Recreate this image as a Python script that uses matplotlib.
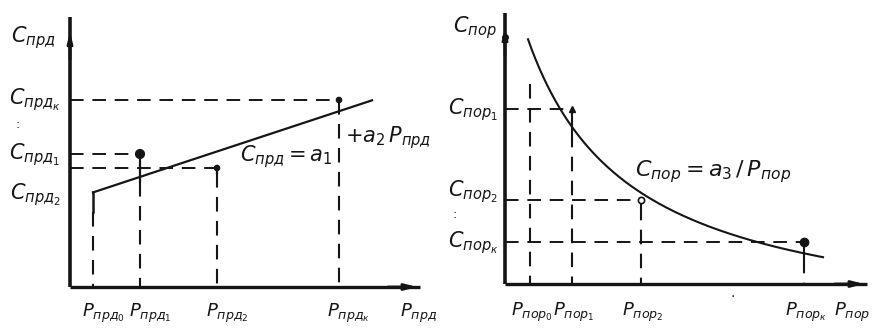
import numpy as np
import matplotlib
matplotlib.use("Agg")
import matplotlib.pyplot as plt

plt.rcParams["font.family"] = ["DejaVu Sans"]
plt.rcParams["mathtext.fontset"] = "dejavusans"

INK = "#151515"
DASH = (0, (7, 4.5))

# ---- left panel: linear price of sale  C = a1 + a2 * P ----
prd_p = [0.23, 0.70, 1.47, 2.69]          # P_прд0, P_прд1, P_прд2, P_прдk
prd_obs_p = [0.70, 1.47, 2.69]            # observed points 1, 2, k
prd_obs_c = [1.33, 1.19, 1.87]
a1, a2 = 0.87, 0.33
prd_line_p = [0.23, 3.02]
prd_xlabels = [r"$P_{\mathit{прд}_0}$", r"$P_{\mathit{прд}_1}$",
               r"$P_{\mathit{прд}_2}$", r"$P_{\mathit{прд}_к}$"]
prd_ylabels = [r"$C_{\mathit{прд}_к}$", r"$C_{\mathit{прд}_1}$",
               r"$C_{\mathit{прд}_2}$"]

# ---- right panel: hyperbolic price  C = a3 / P ----
por_p = [1.06, 1.48, 2.17, 3.80]          # P_пор0, P_пор1, P_пор2, P_порk
por_obs_p = [1.48, 2.17, 3.80]
por_obs_c = [2.25, 1.34, 0.92]
a3 = 3.065
por_curve_p = [1.04, 3.99]
por_xlabels = [r"$P_{\mathit{пор}_0}$", r"$P_{\mathit{пор}_1}$",
               r"$P_{\mathit{пор}_2}$", r"$P_{\mathit{пор}_к}$"]
por_ylabels = [r"$C_{\mathit{пор}_1}$", r"$C_{\mathit{пор}_2}$",
               r"$C_{\mathit{пор}_к}$"]

FS = 15
FSX = 13

fig = plt.figure(figsize=(8.81, 3.32), dpi=100)
fig.patch.set_facecolor("white")


def draw_axes(ax, x0, y0, x1, y1):
    ax.plot([x0, x0], [y0, y1], color=INK, lw=2.6, solid_capstyle="butt")
    ax.plot([x0, x1], [y0, y0], color=INK, lw=2.4, solid_capstyle="butt")
    ax.annotate("", xy=(x1, y0), xytext=(x1 - 0.35, y0),
                arrowprops=dict(arrowstyle="-|>,head_length=0.7,head_width=0.18",
                                color=INK, lw=2.0))
    ax.annotate("", xy=(x0, y1 - 0.12), xytext=(x0, y1 - 0.45),
                arrowprops=dict(arrowstyle="-|>,head_length=0.6,head_width=0.15",
                                color=INK, lw=2.0))


# ================= left =================
axL = fig.add_axes([0, 0, 440 / 881, 1])
axL.set_xlim(-0.70, 3.70)
axL.set_ylim(-0.45, 2.87)
axL.axis("off")

draw_axes(axL, 0.0, 0.0, 3.50, 2.70)

lp = np.array(prd_line_p)
axL.plot(lp, a1 + a2 * lp, color=INK, lw=1.6)
c0 = a1 + a2 * prd_p[0]
axL.plot([prd_p[0], prd_p[0]], [c0, c0 - 0.2], color=INK, lw=1.8)
axL.plot([prd_p[0], prd_p[0]], [c0 - 0.2, 0], color=INK, lw=1.5, ls=DASH)

for i, (p, c) in enumerate(zip(prd_obs_p, prd_obs_c)):
    axL.plot([0, p], [c, c], color=INK, lw=1.4, ls=DASH)
    if i < 2:
        lo = min(c, a1 + a2 * p) - 0.05
        axL.plot([p, p], [c, lo], color=INK, lw=1.6)
        axL.plot([p, p], [lo, 0], color=INK, lw=1.5, ls=DASH)
    else:
        axL.plot([p, p], [c, 0], color=INK, lw=1.5, ls=DASH)
axL.scatter(prd_obs_p, prd_obs_c, s=[40, 14, 14], color=INK, zorder=5)

axL.text(-0.37, 2.49, r"$C_{\mathit{прд}}$", fontsize=FS, color=INK, ha="center", va="center")
for lbl, y in zip(prd_ylabels, [1.87, 1.32, 0.92]):
    axL.text(-0.35, y, lbl, fontsize=FS, color=INK, ha="center", va="center")
axL.text(-0.52, 1.62, ":", fontsize=9, color=INK, ha="center", va="center")
for lbl, p in zip(prd_xlabels, prd_p):
    axL.text(p + 0.10, -0.26, lbl, fontsize=FSX, color=INK, ha="center", va="center")
axL.text(3.49, -0.26, r"$P_{\mathit{прд}}$", fontsize=FSX, color=INK, ha="center", va="center")
axL.text(2.16, 1.30, r"$C_{\mathit{прд}} = a_1$", fontsize=FS, color=INK, ha="center", va="center")
axL.text(3.18, 1.49, r"$+a_2\,P_{\mathit{прд}}$", fontsize=FS, color=INK, ha="center", va="center")

# ================= right =================
axR = fig.add_axes([440 / 881, 0, 441 / 881, 1])
axR.set_xlim(0.16, 4.57)
axR.set_ylim(0.02, 3.34)
axR.axis("off")

ox, oy = 0.81, 0.50
draw_axes(axR, ox, oy, 4.43, 3.21)
axR.plot(ox, 2.97, marker="o", ms=4, color=INK)

cp = np.linspace(por_curve_p[0], por_curve_p[1], 300)
axR.plot(cp, a3 / cp, color=INK, lw=1.5)

axR.plot([por_p[0], por_p[0]], [2.5, oy], color=INK, lw=1.5, ls=DASH)
for p, c in zip(por_obs_p, por_obs_c):
    axR.plot([ox, p], [c, c], color=INK, lw=1.4, ls=DASH)
    lo = min(c, a3 / p) - 0.12
    axR.plot([p, p], [c, lo], color=INK, lw=1.5)
    axR.plot([p, p], [lo, oy], color=INK, lw=1.5, ls=(3, (7, 4.5)))

axR.plot(por_obs_p[0], por_obs_c[0], marker="^", ms=4, color=INK)
axR.plot(por_obs_p[1], por_obs_c[1], marker="o", ms=4.5, mfc="white", mec=INK, mew=1.2)
axR.plot(por_obs_p[2], por_obs_c[2], marker="o", ms=6, color=INK)

axR.text(0.51, 3.06, r"$C_{\mathit{пор}}$", fontsize=FS, color=INK, ha="center", va="center")
for lbl, y in zip(por_ylabels, [2.24, 1.42, 0.91]):
    axR.text(0.49, y, lbl, fontsize=FS, color=INK, ha="center", va="center")
axR.text(0.31, 1.19, ":", fontsize=9, color=INK, ha="center", va="center")
for lbl, p in zip(por_xlabels, por_p):
    axR.text(p + 0.02, 0.22, lbl, fontsize=FSX, color=INK, ha="center", va="center")
axR.text(3.09, 0.41, ".", fontsize=10, color=INK, ha="center", va="center")
axR.text(4.28, 0.22, r"$P_{\mathit{пор}}$", fontsize=FSX, color=INK, ha="center", va="center")
axR.text(2.89, 1.62, r"$C_{\mathit{пор}} = a_3\,/\,P_{\mathit{пор}}$", fontsize=FS + 1,
         color=INK, ha="center", va="center")

fig.savefig("out.png", dpi=100, facecolor="white")
